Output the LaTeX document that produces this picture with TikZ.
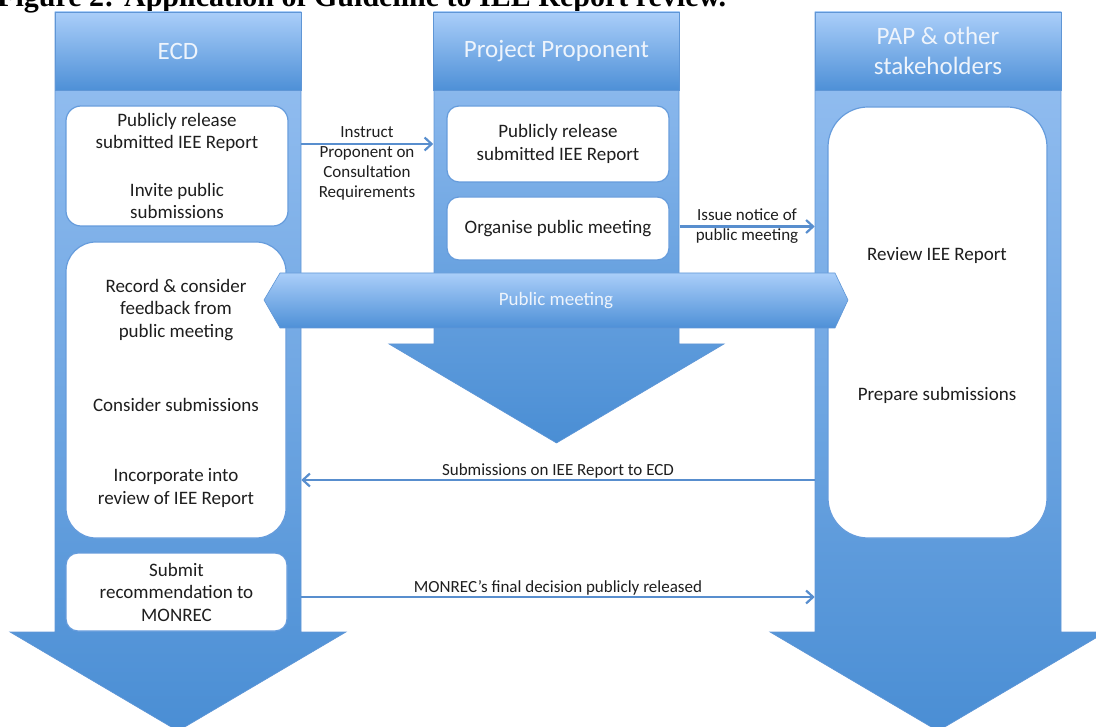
\documentclass[tikz,border=0pt]{standalone}
\usepackage{fontspec}
\setmainfont{Carlito}
\newfontfamily\titlefont{Liberation Serif}
\usetikzlibrary{calc}
\usetikzlibrary{arrows.meta}

\definecolor{lanetop}{RGB}{152,193,242}
\definecolor{lanebot}{RGB}{74,142,212}
\definecolor{laneedge}{RGB}{95,150,214}
\definecolor{hdtop}{RGB}{170,206,249}
\definecolor{hdbot}{RGB}{78,144,215}
\definecolor{hdtext}{RGB}{238,244,252}
\definecolor{cardedge}{RGB}{102,156,220}
\definecolor{linkblue}{RGB}{88,142,206}
\definecolor{ink}{RGB}{30,30,30}
\newcommand\cardtext{\fontsize{19}{22.5}\selectfont}

\begin{document}
\begin{tikzpicture}[x=1pt, y=-1pt, >={Straight Barb[length=7pt, width=13pt]},
  lane/.style={draw=laneedge, line width=.6pt, top color=lanetop, bottom color=lanebot},
  header/.style={draw=laneedge, line width=.6pt, top color=hdtop, bottom color=hdbot, text=hdtext, minimum width=246pt, minimum height=78pt, inner sep=0pt, align=center, font=\fontsize{25}{30}\selectfont},
  band/.style={draw=laneedge, line width=.6pt, top color=hdtop, bottom color=hdbot},
  card/.style={draw=cardedge, line width=1.2pt, fill=white, inner sep=0pt, align=center, font=\cardtext, text=ink},
  say/.style={align=center, font=\cardtext, text=ink, inner sep=0pt},
  note/.style={align=center, font=\fontsize{17}{20}\selectfont, text=ink, inner sep=1pt},
  link/.style={draw=linkblue, line width=2.2pt, ->}]

\useasboundingbox (0,0) rectangle (1096,727);
\clip (0,0) rectangle (1096,727);

\node[anchor=base west, inner sep=0pt, font=\titlefont\bfseries\fontsize{30}{34}\selectfont] (title) at (-3,7) {Figure 2: Application of Guideline to IEE Report review.};

% the three lanes, each a broad arrow
\foreach \l/\r/\b in {55/301/632, 434/679/344, 815/1061/632}{
\pgfmathsetmacro\mid{(\l+\r)/2}
\draw[lane] (\l,12) -- (\r,12) -- (\r,\b) -- (\r+45,\b) -- (\mid,\b+99) -- (\l-45,\b) -- (\l,\b) -- cycle;
}

\node[header] (ecdhd) at (178,51) {ECD};
\node[header] (prophd) at (556.5,51) {Project Proponent};
\node[header] (paphd) at (938,51) {PAP \& other\\stakeholders};

% ECD
\node[card, minimum width=222pt, minimum height=120pt, rounded corners=15pt] (relE) at (177,166) {Publicly release\\submitted IEE Report\\[25pt]Invite public\\submissions};
\node[card, minimum width=220pt, minimum height=296pt, rounded corners=30pt] (recE) at (176,390) {};
\node[say] (record) at (176,310) {Record \& consider\\feedback from\\public meeting};
\node[say] (consid) at (176,405) {Consider submissions};
\node[say] (incorp) at (176,488) {Incorporate into\\review of IEE Report};
\node[card, minimum width=221pt, minimum height=78pt, rounded corners=12pt] (subE) at (176.5,592) {Submit\\recommendation to\\MONREC};

% proponent
\node[card, minimum width=222pt, minimum height=76pt, rounded corners=12pt] (relP) at (558,144) {Publicly release\\submitted IEE Report};
\node[card, minimum width=222pt, minimum height=63pt, rounded corners=12pt] (orgP) at (558,228.5) {Organise public meeting};

% PAP
\node[card, minimum width=219pt, minimum height=431pt, rounded corners=40pt] (revC) at (937.5,322.5) {};
\node[say] (review) at (937,255) {Review IEE Report};
\node[say] (prep) at (937,395) {Prepare submissions};

% public meeting band
\draw[band] (264,300) -- (280,273) -- (835,273) -- (848,300) -- (835,328) -- (280,328) -- cycle;
\node[text=hdtext, font=\cardtext] (meet) at (556,301) {Public meeting};

\node[note] (instr) at (367,163) {Instruct\\Proponent on\\Consultation\\Requirements};
\node[note] (issue) at (747,226) {Issue notice of\\public meeting};

\draw[link] (ecdhd.east |- relP) -- (prophd.west |- relP);
\draw[link] ($(prophd.east |- orgP)+(0,-2)$) -- ($(paphd.west |- orgP)+(0,-2)$);
\draw[link] ($(paphd.west |- incorp)+(0,-8)$) -- node[note, above] {Submissions on IEE Report to ECD} ($(ecdhd.east |- incorp)+(0,-8)$);
\draw[link] ($(ecdhd.east |- subE)+(0,5)$) -- node[note, above] {MONREC's final decision publicly released} ($(paphd.west |- subE)+(0,5)$);
\end{tikzpicture}
\end{document}
